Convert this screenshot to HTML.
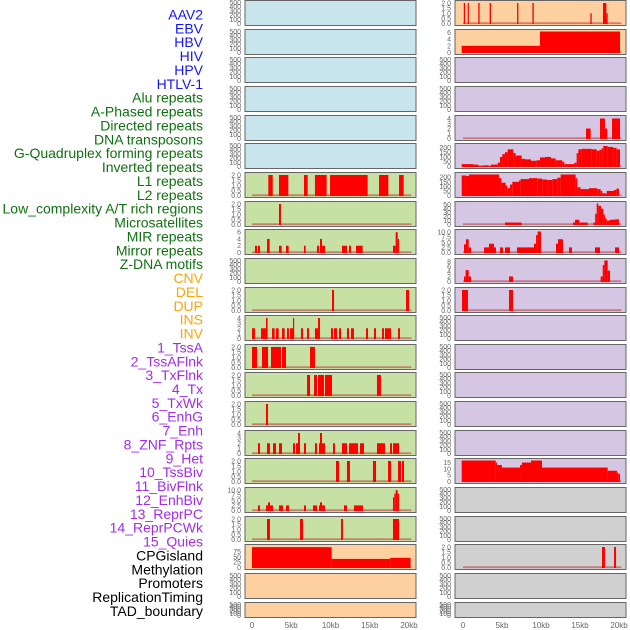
<!DOCTYPE html>
<html><head><meta charset="utf-8">
<style>
body{margin:0;background:#fff;width:630px;height:630px;overflow:hidden;font-family:"Liberation Sans",sans-serif;}
svg{position:absolute;left:0;top:0}
</style></head>
<body>
<svg id="chart" width="630" height="630"></svg>
<script>
// ---- data (segments: [startKb, endKb, value]) ----
const labels = ["AAV2","EBV","HBV","HIV","HPV","HTLV-1","Alu repeats","A-Phased repeats","Directed repeats","DNA transposons","G-Quadruplex forming repeats","Inverted repeats","L1 repeats","L2 repeats","Low_complexity A/T rich regions","Microsatellites","MIR repeats","Mirror repeats","Z-DNA motifs","CNV","DEL","DUP","INS","INV","1_TssA","2_TssAFlnk","3_TxFlnk","4_Tx","5_TxWk","6_EnhG","7_Enh","8_ZNF_Rpts","9_Het","10_TssBiv","11_BivFlnk","12_EnhBiv","13_ReprPC","14_ReprPCWk","15_Quies","CPGisland","Methylation","Promoters","ReplicationTiming","TAD_boundary"];
const labelColors = ["#1414ff","#1414ff","#1414ff","#1414ff","#1414ff","#1414ff","#117011","#117011","#117011","#117011","#117011","#117011","#117011","#117011","#117011","#117011","#117011","#117011","#117011","#ffa500","#ffa500","#ffa500","#ffa500","#ffa500","#a02cf0","#a02cf0","#a02cf0","#a02cf0","#a02cf0","#a02cf0","#a02cf0","#a02cf0","#a02cf0","#a02cf0","#a02cf0","#a02cf0","#a02cf0","#a02cf0","#a02cf0","#000","#000","#000","#000","#000"];
const xTicks = [0,5,10,15,20];
const xTickLabels = ["0","5kb","10kb","15kb","20kb"];
const ticksEmpty = [0,100,200,300,400,500];
const ticks2 = [0,0.5,1,1.5,2];

const L7 = [[2.08,2.64,2],[3.44,4.63,2],[6.62,7.09,2],[8.02,9.51,2],[9.94,14.73,2],[16.18,17.37,2],[18.73,19.32,2]];
const L8 = [[3.44,3.69,2]];
const L9 = [[0.38,0.64,2],[0.76,1.02,2],[1.91,2.25,4],[3.44,3.78,2],[4.33,4.67,2],[6.62,6.84,2],[8.28,8.54,2],[8.66,8.92,4],[8.92,9.3,2],[11.46,12.1,2],[12.36,12.61,2],[13.25,14.1,2],[17.96,18.3,2],[18.3,18.56,6],[18.56,18.73,4]];
const L11 = [[10.19,10.45,2],[19.62,20.0,2]];
const L12 = [[0,0.38,2],[1.15,1.78,2],[1.78,1.99,4],[2.55,2.89,2],[3.06,3.4,2],[3.82,4.16,2],[4.46,4.71,2],[4.84,5.22,2],[5.22,5.35,4],[6.24,6.5,2],[7.01,7.26,2],[8.02,8.41,2],[8.41,8.66,4],[10.06,10.32,2],[10.45,10.83,2],[11.08,11.34,2],[12.1,12.36,2],[12.61,12.99,2],[14.52,14.78,2],[15.54,15.8,2],[16.56,16.82,2],[16.94,17.71,2],[18.6,18.85,2]];
const L13 = [[0,0.64,2],[1.27,2.04,2],[2.42,3.69,2],[3.82,4.33,2],[7.39,8.02,2]];
const L14 = [[7.01,7.39,2],[7.9,8.28,2],[8.41,9.17,2],[9.3,10.19,2],[15.92,16.43,2]];
const L15 = [[1.78,2.04,2]];
const L16 = [[0.76,1.02,2],[1.91,2.29,2],[2.68,3.06,2],[3.44,3.82,2],[5.22,5.48,2],[5.61,5.86,2],[5.86,6.11,4],[6.62,6.88,2],[8.02,8.28,2],[8.54,8.66,2],[8.66,8.92,4],[8.92,9.3,2],[10.32,10.57,2],[11.46,12.1,2],[12.36,13.5,2],[13.76,14.27,2],[15.92,16.94,2],[17.58,17.83,2],[17.96,18.73,2]];
const L17 = [[10.7,11.08,2],[12.1,12.48,2],[15.41,15.8,2],[17.33,17.71,2],[18.6,18.98,2],[19.11,19.36,2]];
const L18 = [[0.76,1.02,2.5],[1.78,2.04,2.5],[2.04,2.29,4],[2.29,2.68,2.5],[3.44,3.95,2.5],[4.33,4.71,2.5],[6.62,6.88,2.5],[7.77,8.28,2.5],[8.54,8.66,2.5],[8.66,8.92,4],[8.92,9.3,2.5],[11.72,12.1,2.5],[12.99,14.14,2.5],[17.96,18.13,6.5],[18.13,18.3,8.3],[18.3,18.56,10],[18.56,18.73,8.3]];
const L19 = [[1.91,2.29,2],[6.11,6.5,2],[11.34,11.59,2],[17.96,18.73,2]];
const L20 = [[0,10.15,95],[10.15,17.6,40],[17.6,20.2,45]];

const R1 = [[0.1,0.27,2],[0.6,0.73,2],[1.96,2.13,2],[3.42,3.59,2],[6.93,7.1,2],[8.9,9.07,2],[16.33,16.5,1],[17.95,18.38,2],[18.38,18.55,1]];
const R2 = [[-0.17,9.87,2],[9.87,20.13,6.3]];
const R5 = [[15.77,16.37,2],[17.56,18.2,4],[18.2,18.5,2],[19.1,20.13,4]];
const R6 = [[-0.17,1.33,25],[1.33,1.97,20],[1.97,2.61,5],[2.61,3.25,12],[3.25,3.59,5],[3.59,4.44,20],[4.44,4.74,40],[4.74,5.04,100],[5.04,5.38,130],[5.38,5.73,150],[5.73,6.45,180],[6.45,6.75,140],[6.75,7.52,115],[7.52,7.95,80],[7.95,8.72,75],[8.72,9.44,60],[9.44,9.87,65],[9.87,10.51,95],[10.51,11.28,100],[11.28,11.88,85],[11.88,12.73,65],[12.73,12.99,50],[12.99,14.27,25],[14.27,14.57,40],[14.57,14.79,140],[14.79,15.21,180],[15.21,16.5,185],[16.5,17.14,180],[17.14,17.48,165],[17.48,17.78,175],[17.78,17.99,190],[17.99,18.55,215],[18.55,19.27,205],[19.27,19.7,195],[19.7,20.13,180]];
const R7 = [[-0.17,0.34,220],[0.34,0.77,215],[0.77,4.62,230],[4.62,4.92,190],[4.92,5.47,140],[5.47,5.68,110],[5.68,6.03,80],[6.03,6.32,120],[6.32,7.18,150],[7.18,7.39,165],[7.39,8.46,180],[8.46,9.53,190],[9.53,10.17,185],[10.17,10.81,175],[10.81,11.45,170],[11.45,12.09,180],[12.09,12.52,195],[12.52,14.44,230],[14.44,14.66,190],[14.66,15.08,90],[15.08,16.15,70],[16.15,17.22,80],[17.22,17.65,70],[17.65,17.86,50],[17.86,18.29,25],[18.29,18.42,20],[18.42,19.36,50],[19.36,19.66,60],[19.66,20.0,75]];
const R8 = [[5.38,7.52,5],[14.1,14.36,5],[14.36,14.91,12],[14.91,15.98,5],[16.72,16.94,5],[16.94,17.14,27],[17.14,17.35,53],[17.35,17.69,47],[17.69,17.99,40],[17.99,18.2,25],[18.2,18.42,15],[18.42,18.85,10],[18.85,19.49,12],[19.49,20.0,13]];
const R9 = [[0.13,0.38,4],[0.38,0.73,6.5],[0.73,1.03,2.5],[2.69,3.33,2.5],[3.33,3.97,4.3],[3.97,4.23,2.5],[4.74,5.13,2.5],[5.38,6.03,2.5],[6.92,9.1,2.5],[9.1,9.36,4.3],[9.36,9.57,8.5],[9.57,10.0,10.3],[11.92,12.18,4.3],[12.18,12.82,6.5],[13.59,13.97,2.5],[16.92,17.56,2.5],[19.49,20.0,2.5]];
const R10 = [[0.13,0.34,2],[0.34,0.73,4.5],[0.73,1.03,2],[5.9,6.41,2],[17.65,17.91,2],[17.91,18.12,6.5],[18.12,18.55,8.3],[18.55,18.85,4.3]];
const R11 = [[-0.13,0.64,2],[5.9,6.41,2]];
const R17 = [[-0.17,4.19,16.6],[4.19,4.36,15],[4.36,5.0,13],[5.0,7.31,11],[7.31,7.56,13],[7.56,8.72,15],[8.72,10.13,16.6],[10.13,18.55,11],[18.55,19.74,8.5],[19.74,19.91,7],[19.91,20.13,6]];
const R20 = [[17.82,18.2,2],[19.36,19.62,2]];

const BLUE="#c8e4ec",GREEN="#c7e1a5",PEACH="#fecf9f",PURP="#d5c7e3",GRAY="#d0d0d0";
const panels = [
 // col, row, bg, ymax, ticks, tickfmt, segs, name
 [0,0,BLUE,500,ticksEmpty,0,null,"aav2"],[0,1,BLUE,500,ticksEmpty,0,null,"ebv"],[0,2,BLUE,500,ticksEmpty,0,null,"hbv"],
 [0,3,BLUE,500,ticksEmpty,0,null,"hiv"],[0,4,BLUE,500,ticksEmpty,0,null,"hpv"],[0,5,BLUE,500,ticksEmpty,0,null,"htlv1"],
 [0,6,GREEN,2.05,ticks2,1,L7,"alu"],[0,7,GREEN,2.05,ticks2,1,L8,"a-phased"],[0,8,GREEN,6.2,[0,2,4,6],0,L9,"directed"],
 [0,9,GREEN,500,ticksEmpty,0,null,"dna-transposons"],[0,10,GREEN,2.05,ticks2,1,L11,"g-quadruplex"],[0,11,GREEN,4.1,[0,1,2,3,4],0,L12,"inverted"],
 [0,12,GREEN,2.05,ticks2,1,L13,"l1"],[0,13,GREEN,2.05,ticks2,1,L14,"l2"],[0,14,GREEN,2.05,ticks2,1,L15,"low-complexity"],
 [0,15,GREEN,4.1,[0,1,2,3,4],0,L16,"microsatellites"],[0,16,GREEN,2.05,ticks2,1,L17,"mir"],[0,17,GREEN,10.3,[0,2.5,5,7.5,10],1,L18,"mirror"],
 [0,18,GREEN,2.05,ticks2,1,L19,"z-dna"],[0,19,PEACH,98,[0,25,50,75],0,L20,"cnv"],[0,20,PEACH,500,ticksEmpty,0,null,"del"],[0,21,PEACH,500,ticksEmpty,0,null,"dup"],
 [1,0,PEACH,2.05,ticks2,1,R1,"ins"],[1,1,PEACH,6.3,[0,2,4,6],0,R2,"inv"],[1,2,PURP,500,ticksEmpty,0,null,"tssa"],[1,3,PURP,500,ticksEmpty,0,null,"tssaflnk"],
 [1,4,PURP,4.2,[0,1,2,3,4],0,R5,"txflnk"],[1,5,PURP,220,[0,50,100,150,200],0,R6,"tx"],[1,6,PURP,230,[0,50,100,150,200],0,R7,"txwk"],
 [1,7,PURP,53,[0,10,20,30,40,50],0,R8,"enhg"],[1,8,PURP,10.3,[0,2.5,5,7.5,10],1,R9,"enh"],[1,9,PURP,8.3,[0,2,4,6,8],0,R10,"znf-rpts"],
 [1,10,PURP,2.05,ticks2,1,R11,"het"],[1,11,PURP,500,ticksEmpty,0,null,"tssbiv"],[1,12,PURP,500,ticksEmpty,0,null,"bivflnk"],[1,13,PURP,500,ticksEmpty,0,null,"enhbiv"],
 [1,14,PURP,500,ticksEmpty,0,null,"reprpc"],[1,15,PURP,500,ticksEmpty,0,null,"reprpcwk"],[1,16,PURP,16.6,[0,5,10,15],0,R17,"quies"],
 [1,17,GRAY,500,ticksEmpty,0,null,"cpgisland"],[1,18,GRAY,500,ticksEmpty,0,null,"methylation"],[1,19,GRAY,2.05,ticks2,1,R20,"promoters"],
 [1,20,GRAY,500,ticksEmpty,0,null,"replication-timing"],[1,21,GRAY,500,ticksEmpty,0,null,"tad-boundary"]
];

const NS="http://www.w3.org/2000/svg";
const svg=document.getElementById('chart');
function mk(tag,attrs,parent){const e=document.createElementNS(NS,tag);for(const k in attrs)e.setAttribute(k,attrs[k]);(parent||svg).appendChild(e);return e;}
const colX=[{x0:245,x1:416,z:252,pk:7.85},{x0:455,x1:626,z:463,pk:7.8}];
function xScale(col,kb){return colX[col].z+kb*colX[col].pk;}

// labels
labels.forEach((t,i)=>{
  const e=mk('text',{x:203,y:14.5+i*13.87+5,'text-anchor':'end','font-size':14,fill:labelColors[i],'font-family':'"Liberation Sans",sans-serif'});
  e.textContent=t;
  
  
});

panels.forEach(p=>{
  const [col,row,bg,ymax,ticks,fmt,segs,name]=p;
  const top=Math.round(row*28.65);
  const h=row===21?15:25;
  const c=colX[col];
  const g=mk('g',{});
  
  
  mk('rect',{x:c.x0,y:top+0.5,width:c.x1-c.x0,height:h,fill:bg},g);
  const y0=top+h-1.5, yTop=top+2.5;
  const yS=v=>y0-(v/ymax)*(y0-yTop);
  if(segs){
    const base=mk('rect',{x:xScale(col,0),y:y0-1.2,width:xScale(col,20.3)-xScale(col,0),height:1.8,fill:'#c04040','fill-opacity':0.6},g);
    
    
    segs.forEach(s=>{
      let xa=xScale(col,s[0]),xb=xScale(col,s[1]);
      if(xb-xa<1.2)xb=xa+1.2;
      const yy=Math.max(top+1,yS(s[2]));
      const r=mk('rect',{x:xa,y:yy,width:xb-xa,height:y0-yy+0.5,fill:'#ff0000'},g);
      
      
    });
  }
  mk('rect',{x:c.x0,y:top+0.5,width:c.x1-c.x0,height:h,fill:'none',stroke:'#666','stroke-width':1},g);
  ticks.forEach(t=>{
    const e=mk('text',{x:c.x0-4,y:yS(t)+2.5,'text-anchor':'end','font-size':7,fill:'#666'},g);
    e.textContent=fmt?t.toFixed(1):String(t);
    
    
  });
});

[0,1].forEach(col=>{
  xTicks.forEach((t,i)=>{
    const e=mk('text',{x:xScale(col,t),y:628,'text-anchor':'middle','font-size':8,fill:'#666'});
    e.textContent=xTickLabels[i];
    
    
  });
});
</script>
</body></html>
